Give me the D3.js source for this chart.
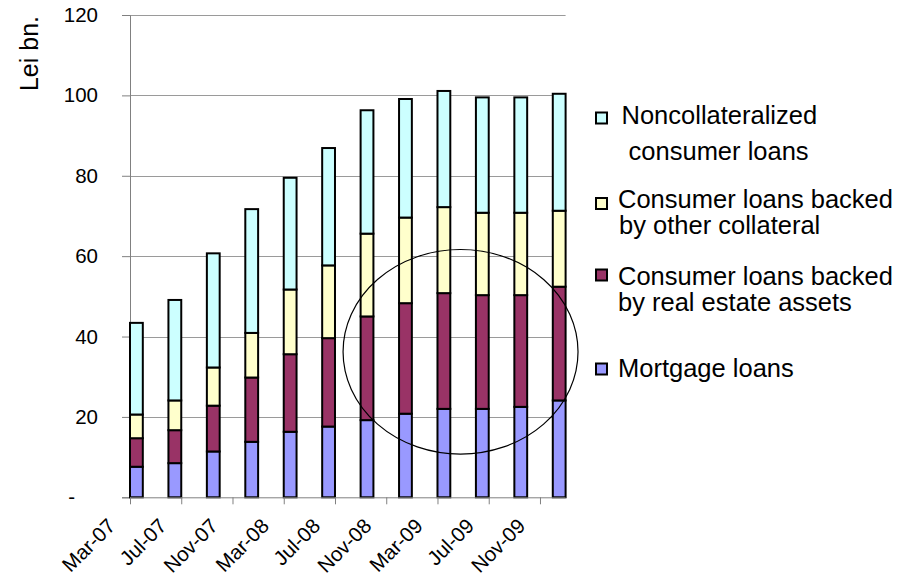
<!DOCTYPE html>
<html>
<head>
<meta charset="utf-8">
<script src="https://cdn.jsdelivr.net/npm/d3@7"></script>
<style>
  html, body { margin: 0; padding: 0; background: #fff; }
  svg { display: block; font-family: "Liberation Sans", Arial, sans-serif; }
</style>
</head>
<body>
<svg id="chart" width="911" height="579"></svg>
<script>
// Quarterly observations (year-month)
const periods = ["2007-03","2007-06","2007-09","2007-12","2008-03","2008-06",
                 "2008-09","2008-12","2009-03","2009-06","2009-09","2009-12"];

// Stock of household loans, Lei bn.
const mortgageLoans     = [7.6, 8.5, 11.4, 13.8, 16.3, 17.6, 19.2, 20.8, 22.0, 22.0, 22.5, 24.1];
const realEstateBacked  = [7.1, 8.2, 11.4, 16.0, 19.3, 22.0, 25.8, 27.5, 28.8, 28.3, 27.8, 28.3];
const otherCollateral   = [5.9, 7.4, 9.5, 11.1, 16.1, 18.1, 20.6, 21.3, 21.4, 20.5, 20.5, 18.9];
const noncollateralized = [22.8, 25.0, 28.4, 30.8, 27.8, 29.2, 30.7, 29.5, 28.9, 28.7, 28.7, 29.1];

// Axis labelling
const xTickPeriods = ["2007-03","2007-07","2007-11","2008-03","2008-07","2008-11","2009-03","2009-07","2009-11"];
const xTickLabels  = ["Mar-07","Jul-07","Nov-07","Mar-08","Jul-08","Nov-08","Mar-09","Jul-09","Nov-09"];
const yTicks       = [0, 20, 40, 60, 80, 100, 120];
const yTickLabels  = ["-", "20", "40", "60", "80", "100", "120"];
const yTitle       = "Lei bn.";

// Series in stacking order (bottom to top)
const seriesKeys   = ["mortgage", "realEstate", "other", "noncoll"];
const seriesColors = ["#9999FF", "#993366", "#FFFFCC", "#CCFFFF"];
const seriesValues = [mortgageLoans, realEstateBacked, otherCollateral, noncollateralized];

// Legend entries, top to bottom, each with its text lines
const legendKeys  = ["noncoll", "other", "realEstate", "mortgage"];
const legendLines = [
  ["Noncollateralized", " consumer loans"],
  ["Consumer loans backed", "by other collateral"],
  ["Consumer loans backed", "by real estate assets"],
  ["Mortgage loans"]
];

// Highlight ellipse around the 2009 plateau (month offset, value, radii)
const highlight = { month: 25.8, value: 36.2, rMonths: 9.17, rValue: 25.45 };

// Months elapsed since the first period, the base unit of the date axis
const startYear = 2007, startMonth = 3;
const monthIndex = p => {
  const [y, m] = p.split("-").map(Number);
  return (y - startYear) * 12 + (m - startMonth);
};

const svg = d3.select("#chart");

const x = d3.scaleLinear().domain([0, 34]).range([130, 565.6]);
const y = d3.scaleLinear().domain([0, 120]).range([497.3, 15]);

// Table for the stack layout
const table = periods.map((p, i) => {
  const row = { period: p };
  seriesKeys.forEach((k, j) => row[k] = seriesValues[j][i]);
  return row;
});
const stacked = d3.stack().keys(seriesKeys)(table);
const color = d3.scaleOrdinal().domain(seriesKeys).range(seriesColors);

// Horizontal gridlines
svg.append("g")
  .selectAll("line")
  .data(yTicks.filter(t => t > 0))
  .join("line")
  .attr("x1", x(0)).attr("x2", x(34))
  .attr("y1", d => Math.round(y(d)) + 0.5).attr("y2", d => Math.round(y(d)) + 0.5)
  .attr("stroke", "#9a9a9a").attr("stroke-width", 1);

// Y axis
const yAxis = svg.append("g")
  .attr("transform", `translate(${x(0)},0)`)
  .call(d3.axisLeft(y).tickValues(yTicks).tickSize(8).tickPadding(24)
    .tickFormat((d, i) => yTickLabels[i]));
yAxis.select(".domain").attr("stroke", "#808080");
yAxis.selectAll(".tick line").attr("stroke", "#808080");
yAxis.selectAll(".tick text")
  .attr("font-size", 20.5).attr("fill", "#000")
  .attr("font-family", "Liberation Sans, Arial, sans-serif")
  .attr("dx", d => d === 0 ? -23 : 0);

// Stacked bars: each bar fills one month slot of the date axis
svg.append("g")
  .selectAll("g")
  .data(stacked)
  .join("g")
  .attr("fill", d => color(d.key))
  .selectAll("rect")
  .data(d => d)
  .join("rect")
  .attr("x", d => x(monthIndex(d.data.period)))
  .attr("width", d => x(monthIndex(d.data.period) + 1) - x(monthIndex(d.data.period)))
  .attr("y", d => y(d[1]))
  .attr("height", d => y(d[0]) - y(d[1]))
  .attr("stroke", "#000").attr("stroke-width", 2);

// X axis
const xAxis = svg.append("g")
  .attr("transform", `translate(0,${y(0)})`)
  .call(d3.axisBottom(x).tickValues(xTickPeriods.map(monthIndex)).tickSize(7)
    .tickFormat((d, i) => xTickLabels[i]));
xAxis.select(".domain").attr("stroke", "#808080").attr("d", `M${x(0)},0.5H${x(34)}`);
xAxis.selectAll(".tick line").attr("stroke", "#808080");
xAxis.selectAll(".tick text")
  .attr("font-size", 20.5).attr("fill", "#000")
  .attr("font-family", "Liberation Sans, Arial, sans-serif")
  .attr("text-anchor", "end")
  .attr("dy", null).attr("y", null)
  .attr("transform", "translate(-14,30) rotate(-45)");

// Y axis title
svg.append("text")
  .attr("transform", `translate(38,${(15 + 92) / 2}) rotate(-90)`)
  .attr("text-anchor", "middle")
  .attr("font-size", 25)
  .text(yTitle);

// Highlight ellipse
svg.append("ellipse")
  .attr("cx", x(highlight.month))
  .attr("cy", y(highlight.value))
  .attr("rx", x(highlight.rMonths) - x(0))
  .attr("ry", y(0) - y(highlight.rValue))
  .attr("fill", "none").attr("stroke", "#000").attr("stroke-width", 1.2);

// Legend
const legendTop = [118, 203.5, 275, 369];
const lineBase  = [[124, 160], [208, 234], [285, 311], [377]];
const lineX     = [[621.5, 621.5], [618, 619], [618, 618], [618]];
const legend = svg.append("g");
legendKeys.forEach((k, i) => {
  legend.append("rect")
    .attr("x", 596).attr("y", legendTop[i] - 5.5)
    .attr("width", 11).attr("height", 11)
    .attr("fill", color(k)).attr("stroke", "#000").attr("stroke-width", 2);
  legendLines[i].forEach((t, j) => {
    legend.append("text")
      .attr("x", lineX[i][j]).attr("y", lineBase[i][j])
      .attr("font-size", 25.5)
      .attr("xml:space", "preserve")
      .style("white-space", "pre")
      .text(t);
  });
});
</script>
</body>
</html>
